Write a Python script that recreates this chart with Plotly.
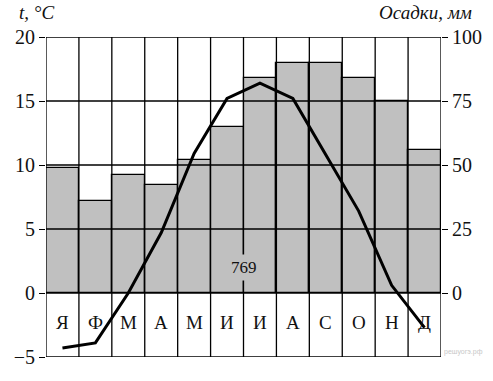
import plotly.graph_objects as go

months = ["Я", "Ф", "М", "А", "М", "И", "И", "А", "С", "О", "Н", "Д"]
precip_mm = [49, 36, 46, 42, 52, 65, 84, 90, 90, 84, 75, 56]
temp_c = [-4.3, -3.9, 0.0, 4.7, 10.9, 15.2, 16.4, 15.2, 10.8, 6.4, 0.6, -2.7]
t_ticks = [-5, 0, 5, 10, 15, 20]
p_ticks = [0, 25, 50, 75, 100]
total_label = "769"

FONT = "Liberation Serif"
n = len(months)
xc = [i + 0.5 for i in range(n)]

fig = go.Figure()
# precipitation bars on base axis (right side), temperature line on overlaying axis (left side)
fig.add_trace(go.Bar(
    x=xc, y=precip_mm, width=1.0, yaxis="y",
    marker=dict(color="#c0c0c0", line=dict(color="black", width=1.2)),
    showlegend=False, hoverinfo="skip",
))
fig.add_trace(go.Scatter(
    x=xc, y=temp_c, mode="lines", yaxis="y2",
    line=dict(color="black", width=3),
    showlegend=False, hoverinfo="skip",
))

shapes = []
for t in t_ticks:
    shapes.append(dict(type="line", xref="x", yref="y2", x0=0, x1=n, y0=t, y1=t,
                       line=dict(color="black", width=1.3), layer="above"))
for i in range(n + 1):
    shapes.append(dict(type="line", xref="x", yref="y2", x0=i, x1=i,
                       y0=t_ticks[0], y1=t_ticks[-1],
                       line=dict(color="black", width=1.3), layer="above"))

annotations = []
for i, m in enumerate(months):
    annotations.append(dict(x=xc[i], y=-2.3, xref="x", yref="y2", text=m,
                            showarrow=False, font=dict(family=FONT, size=19, color="#111")))
annotations.append(dict(x=6, y=2.0, xref="x", yref="y2", text=total_label,
                        showarrow=False, bgcolor="#c0c0c0", borderpad=3,
                        font=dict(family=FONT, size=17, color="#111")))
annotations.append(dict(x=-0.023, y=1.078, xref="paper", yref="paper",
                        xanchor="center", yanchor="middle",
                        text="<i>t, °C</i>", showarrow=False,
                        font=dict(family=FONT, size=19, color="#111")))
annotations.append(dict(x=0.96, y=1.078, xref="paper", yref="paper",
                        xanchor="center", yanchor="middle",
                        text="<i>Осадки, мм</i>", showarrow=False,
                        font=dict(family=FONT, size=19, color="#111")))
annotations.append(dict(x=1.003, y=0.016, xref="paper", yref="paper",
                        xanchor="left", yanchor="middle",
                        text="решуогэ.рф", showarrow=False,
                        font=dict(family="Liberation Sans Narrow, Liberation Sans", size=7,
                                  color="#c8c8c8")))

fig.update_layout(
    width=493, height=381,
    margin=dict(l=46, r=52, t=37, b=24),
    paper_bgcolor="white", plot_bgcolor="white",
    font=dict(family=FONT, size=19, color="#111"),
    bargap=0,
    xaxis=dict(range=[0, n], showgrid=False, zeroline=False, showticklabels=False,
               ticks="", fixedrange=True),
    yaxis=dict(range=[-25, 100], tickvals=p_ticks, side="right",
               showgrid=False, zeroline=False, ticks="outside", ticklen=6,
               tickwidth=1.3, tickcolor="black",
               tickfont=dict(family=FONT, size=20, color="#111")),
    yaxis2=dict(range=[t_ticks[0], t_ticks[-1]], tickvals=t_ticks, overlaying="y",
                side="left", showgrid=False,
                zeroline=False, ticks="outside", ticklen=6, tickwidth=1.3,
                tickcolor="black", tickfont=dict(family=FONT, size=20, color="#111")),
    shapes=shapes,
    annotations=annotations,
)

fig.write_html("out.html", config={"displayModeBar": False},
               post_script="document.body.style.margin='0';")
